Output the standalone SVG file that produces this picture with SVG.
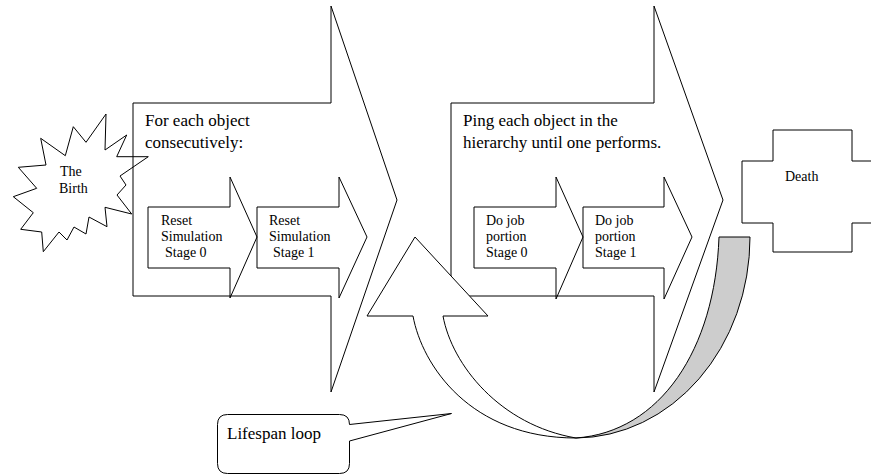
<svg xmlns="http://www.w3.org/2000/svg" width="871" height="475" viewBox="0 0 871 475">
  <style>
    .ln { fill: none; stroke: #000; stroke-width: 1; stroke-linejoin: miter; }
    .wf { fill: #fff; stroke: #000; stroke-width: 1; }
    .gf { fill: #cdcdcd; stroke: #000; stroke-width: 1; }
    .big { font-family: "Liberation Serif", "Times New Roman", serif; font-size: 17px; fill: #000; }
    .sm { font-family: "Liberation Serif", "Times New Roman", serif; font-size: 14px; fill: #000; }
  </style>
  <rect x="0" y="0" width="871" height="475" fill="#fff"/>

  <!-- explosion shape: the birth -->
  <g id="birth">
    <polygon class="wf" points="106,114 105,150 126.7,135 116.7,156.7 148.3,156.7 120,176 126,185 117,195 131.7,214 105,207.3 107,226.7 89,217 86,234 74,227 67,240 59,232 43.3,251.7 41.7,232 20.7,229.3 33.3,212.7 13.3,196.7 36.7,188.3 18.3,167.3 46,165 40.7,138.3 65.3,155.7 73.3,126.7 86,142.3"/>
    <text class="sm" x="60" y="175.5">The</text>
    <text class="sm" x="59" y="192.5">Birth</text>
  </g>

  <!-- first phase: reset the simulation -->
  <g id="reset-phase">
    <polygon class="ln" points="133,103 331,103 331,6 397,200 331,392 331,296 133,296"/>
    <text class="big" x="145" y="125.5">For each object</text>
    <text class="big" x="145" y="148">consecutively:</text>
  </g>
  <g id="reset-stage-0">
    <polygon class="ln" points="148,207 230,207 230,177 257,237 230,298 230,268 148,268"/>
    <text class="sm" x="161" y="225">Reset</text>
    <text class="sm" x="161" y="240.5">Simulation</text>
    <text class="sm" x="165" y="257">Stage 0</text>
  </g>
  <g id="reset-stage-1">
    <polygon class="ln" points="257,207 339,207 339,177 367,237 339,298 339,268 257,268"/>
    <text class="sm" x="269" y="225">Reset</text>
    <text class="sm" x="269" y="240.5">Simulation</text>
    <text class="sm" x="273" y="257">Stage 1</text>
  </g>

  <!-- second phase: do the job -->
  <g id="job-phase">
    <polygon class="ln" points="451,103 654,103 654,6 723,200 654,392 654,296 451,296"/>
    <text class="big" x="463" y="125.5">Ping each object in the</text>
    <text class="big" x="463" y="148">hierarchy until one performs.</text>
  </g>
  <g id="job-stage-0">
    <polygon class="ln" points="474,207 556,207 556,177 583,237 556,299 556,268 474,268"/>
    <text class="sm" x="486" y="225">Do job</text>
    <text class="sm" x="486" y="240.5">portion</text>
    <text class="sm" x="486" y="257">Stage 0</text>
  </g>
  <g id="job-stage-1">
    <polygon class="ln" points="583,207 664,207 664,177 692,237 664,299 664,268 583,268"/>
    <text class="sm" x="595" y="225">Do job</text>
    <text class="sm" x="595" y="240.5">portion</text>
    <text class="sm" x="595" y="257">Stage 1</text>
  </g>

  <!-- cross: the death -->
  <g id="death">
    <polygon class="wf" points="773,130 852,130 852,161 883,161 883,223 852,223 852,252 773,252 773,223 742,223 742,161 773,161"/>
    <text class="sm" x="785" y="181">Death</text>
  </g>

  <!-- curved return arrow -->
  <g id="connectors">
    <path class="gf" d="M719,237 L750,237 A175,201 0 0 1 576,438 C660,432 715,350 719,237 Z"/>
    <path class="wf" d="M443,316 L488,316 L415,237 L367,316 L413,316 C422,365 470,438 576,438 C500,425 452,365 443,316 Z"/>
  </g>

  <!-- callout -->
  <g id="lifespan-callout">
    <path class="wf" d="M227.5,414.5 H339.5 Q349.5,414.5 349.5,424.5 L451.5,413.5 L349.5,441 V463.5 Q349.5,473.5 339.5,473.5 H227.5 Q217.5,473.5 217.5,463.5 V424.5 Q217.5,414.5 227.5,414.5 Z"/>
    <text class="big" x="227" y="439">Lifespan loop</text>
  </g>
</svg>
